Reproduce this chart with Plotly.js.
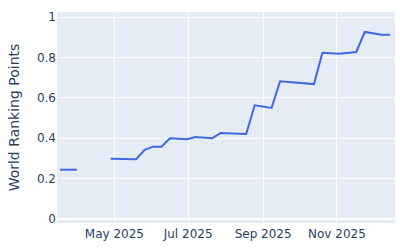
<!DOCTYPE html>
<html>
<head>
<meta charset="utf-8">
<script src="https://cdn.plot.ly/plotly-3.0.1.min.js"></script>
<style>html,body{margin:0;padding:0;}#chart{width:400px;height:250px;}</style>
</head>
<body>
<div id="chart"></div>
<script>
const dates = [
  '2025-03-17','2025-03-31','2025-04-14','2025-04-28','2025-05-19','2025-05-26',
  '2025-06-02','2025-06-09','2025-06-16','2025-06-30','2025-07-07','2025-07-21',
  '2025-07-28','2025-08-18','2025-08-25','2025-09-08','2025-09-15','2025-10-13',
  '2025-10-20','2025-11-03','2025-11-17','2025-11-24','2025-12-08','2025-12-15'
];
const points = [
  0.244, 0.244, null, 0.298, 0.296, 0.342,
  0.358, 0.358, 0.400, 0.395, 0.406, 0.400,
  0.426, 0.421, 0.563, 0.550, 0.682, 0.668,
  0.823, 0.818, 0.827, 0.926, 0.912, 0.912
];
const yTicks = [0, 0.2, 0.4, 0.6, 0.8, 1];
const yTickText = ['0', '0.2', '0.4', '0.6', '0.8', '1'];

Plotly.newPlot('chart', [{
  x: dates, y: points, type: 'scatter', mode: 'lines',
  line: {color: '#4169E1', width: 2}, connectgaps: false
}], {
  width: 400, height: 250,
  margin: {l: 57, r: 5, t: 12, b: 27},
  paper_bgcolor: 'white', plot_bgcolor: '#E5ECF6',
  font: {family: '"DejaVu Sans", verdana, arial, sans-serif', size: 12, color: '#2a3f5f'},
  showlegend: false,
  xaxis: {
    type: 'date', range: ['2025-03-14 14:00', '2025-12-19'],
    tickvals: ['2025-05-01','2025-07-01','2025-09-01','2025-11-01'],
    ticktext: ['May 2025','Jul 2025','Sep 2025','Nov 2025'],
    gridcolor: 'white', linecolor: 'white', zeroline: false, ticks: ''
  },
  yaxis: {
    range: [-0.02, 1.025], tickvals: yTicks, ticktext: yTickText,
    gridcolor: 'white', zeroline: true, zerolinecolor: 'white', zerolinewidth: 2,
    ticks: '', title: {text: 'World Ranking Points', font: {size: 14}}
  }
}, {displayModeBar: false, staticPlot: true});
</script>
</body>
</html>
